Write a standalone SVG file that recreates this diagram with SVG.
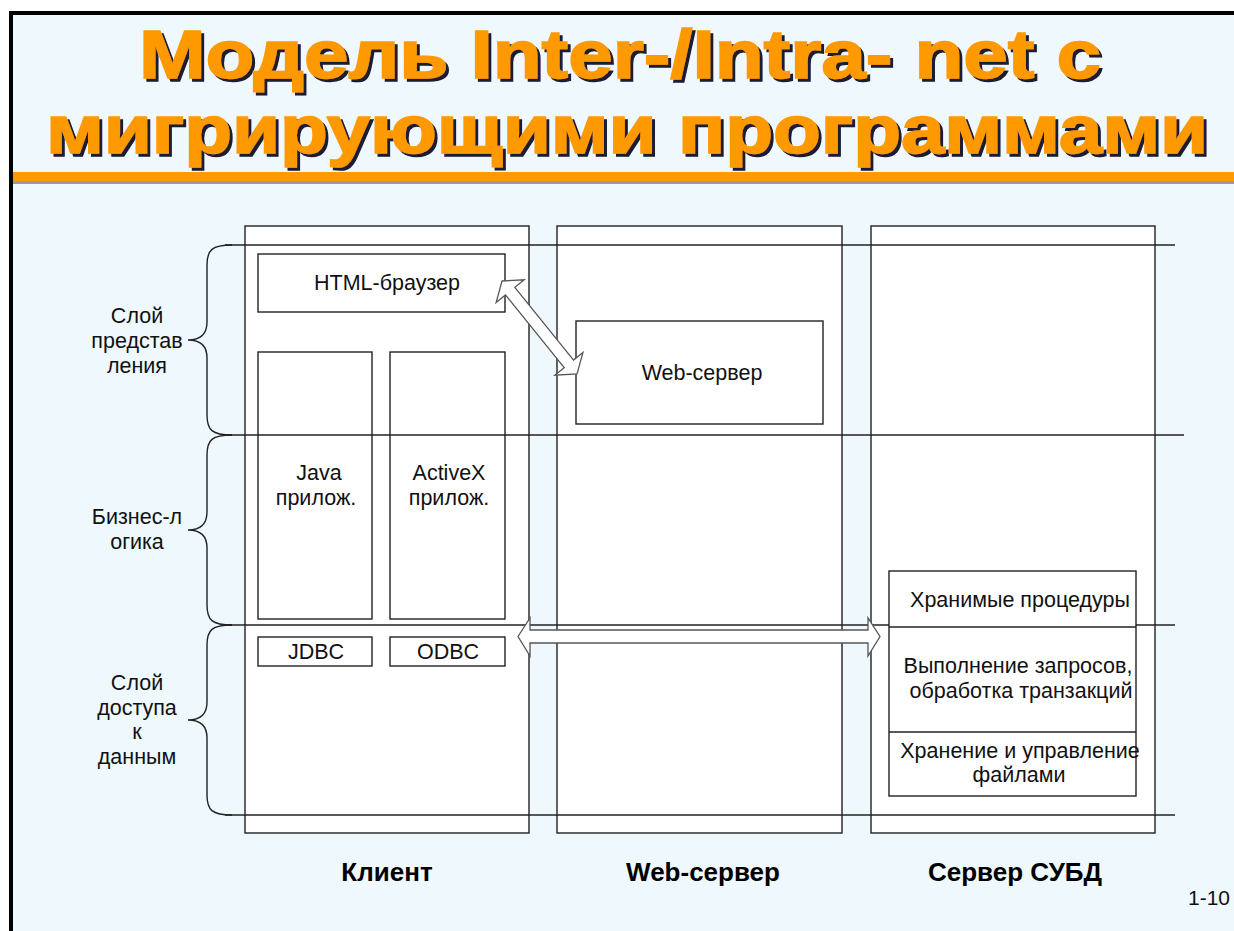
<svg xmlns="http://www.w3.org/2000/svg" width="1234" height="931" viewBox="0 0 1234 931">
<defs>
<filter id="shadow" x="-5%" y="-20%" width="110%" height="150%">
<feOffset in="SourceAlpha" dx="3" dy="3" result="o"/>
<feFlood flood-color="#1a1a33"/>
<feComposite in2="o" operator="in" result="s"/>
<feMerge><feMergeNode in="s"/><feMergeNode in="SourceGraphic"/></feMerge>
</filter>
<style>
.t{font-family:"Liberation Sans",Arial,sans-serif;font-size:21.5px;fill:#111;text-anchor:middle}
.h{font-family:"Liberation Sans",Arial,sans-serif;font-size:26px;font-weight:bold;fill:#000;text-anchor:middle}
.ttl{font-family:"Liberation Sans",Arial,sans-serif;font-size:68px;font-weight:bold;fill:#FF9900;stroke:#FF9900;stroke-width:1.6;text-anchor:middle}
.box{fill:#fff;stroke:#222;stroke-width:1.4}
.ln{stroke:#222;stroke-width:1.4;fill:none}
.arr{fill:#fff;stroke:#555;stroke-width:1.3;stroke-linejoin:miter}
</style>
</defs>
<rect x="0" y="0" width="1234" height="931" fill="#fff"/>
<rect x="11" y="13" width="1240" height="930" fill="#EEF8FD" stroke="#000" stroke-width="4"/>
<g id="title" filter="url(#shadow)">
<text class="ttl" x="620" y="78" textLength="962" lengthAdjust="spacingAndGlyphs">Модель Inter-/Intra- net с</text>
<text class="ttl" x="627" y="153" textLength="1162" lengthAdjust="spacingAndGlyphs">мигрирующими программами</text>
</g>
<rect x="13" y="181" width="1221" height="3" fill="#999"/>
<rect x="13" y="172" width="1221" height="9" fill="#FF9900"/>
<g id="columns">
<rect id="col-client" class="box" x="245" y="226" width="284" height="607"/>
<rect id="col-web" class="box" x="557" y="226" width="285" height="607"/>
<rect id="col-db" class="box" x="871" y="226" width="284" height="607"/>
</g>
<g id="layers">
<line class="ln" x1="225" y1="245" x2="1175" y2="245"/>
<line class="ln" x1="225" y1="435" x2="1184" y2="435"/>
<line class="ln" x1="225" y1="625" x2="1175" y2="625"/>
<line class="ln" x1="225" y1="815" x2="1175" y2="815"/>
<path class="ln" d="M232,245 C212,245 207,250 207,265 L207,322 C207,334 201,340 188,340 C201,340 207,346 207,358 L207,415 C207,430 212,435 232,435"/>
<path class="ln" d="M232,435 C212,435 207,440 207,455 L207,512 C207,524 201,530 188,530 C201,530 207,536 207,548 L207,605 C207,620 212,625 232,625"/>
<path class="ln" d="M232,625 C212,625 207,630 207,645 L207,702 C207,714 201,720 188,720 C201,720 207,726 207,738 L207,795 C207,810 212,815 232,815"/>
<text class="t" x="137" y="323">Слой</text>
<text class="t" x="137" y="348">представ</text>
<text class="t" x="137" y="373">ления</text>
<text class="t" x="137" y="524">Бизнес-л</text>
<text class="t" x="137" y="549">огика</text>
<text class="t" x="137" y="690">Слой</text>
<text class="t" x="137" y="715">доступа</text>
<text class="t" x="137" y="739">к</text>
<text class="t" x="137" y="764">данным</text>
</g>
<g id="html-browser"><rect class="box" x="258" y="254" width="247" height="58"/><text class="t" x="387" y="290">HTML-браузер</text></g>
<g id="java"><rect class="box" x="258" y="352" width="114" height="267" fill-opacity="0"/><text class="t" x="319" y="480">Java</text><text class="t" x="316" y="505">прилож.</text></g>
<g id="activex"><rect class="box" x="390" y="352" width="115" height="267" fill-opacity="0"/><text class="t" x="449" y="480">ActiveX</text><text class="t" x="449" y="505">прилож.</text></g>
<g id="jdbc"><rect class="box" x="258" y="637" width="114" height="29"/><text class="t" x="316" y="659">JDBC</text></g>
<g id="odbc"><rect class="box" x="390" y="637" width="115" height="29"/><text class="t" x="448" y="659">ODBC</text></g>
<g id="web-server"><rect class="box" x="576" y="321" width="247" height="103"/><text class="t" x="702" y="380">Web-сервер</text></g>
<g id="dbms">
<rect class="box" x="889" y="571" width="247" height="225"/>
<line class="ln" x1="889" y1="627" x2="1136" y2="627"/>
<line class="ln" x1="889" y1="732" x2="1136" y2="732"/>
<text class="t" x="1020" y="607">Хранимые процедуры</text>
<text class="t" x="1018" y="673">Выполнение запросов,</text>
<text class="t" x="1021" y="698">обработка транзакций</text>
<text class="t" x="1020" y="758">Хранение и управление</text>
<text class="t" x="1019" y="782">файлами</text>
</g>
<g id="connectors">
<path class="arr" transform="translate(502,281) rotate(51.1)" d="M0,0 L13,-18 L13,-6 L106.5,-6 L106.5,-18 L119.5,0 L106.5,18 L106.5,6 L13,6 L13,18 Z"/>
<path class="arr" d="M518,636.5 L530,618 L530,630 L868,630 L868,618 L880,636.5 L868,656 L868,643 L530,643 L530,656 Z"/>
</g>
<g id="labels">
<text class="h" x="387" y="881">Клиент</text>
<text class="h" x="703" y="881">Web-сервер</text>
<text class="h" x="1015" y="881">Сервер СУБД</text>
<text class="t" x="1209" y="905" style="font-size:21px">1-10</text>
</g>
</svg>
